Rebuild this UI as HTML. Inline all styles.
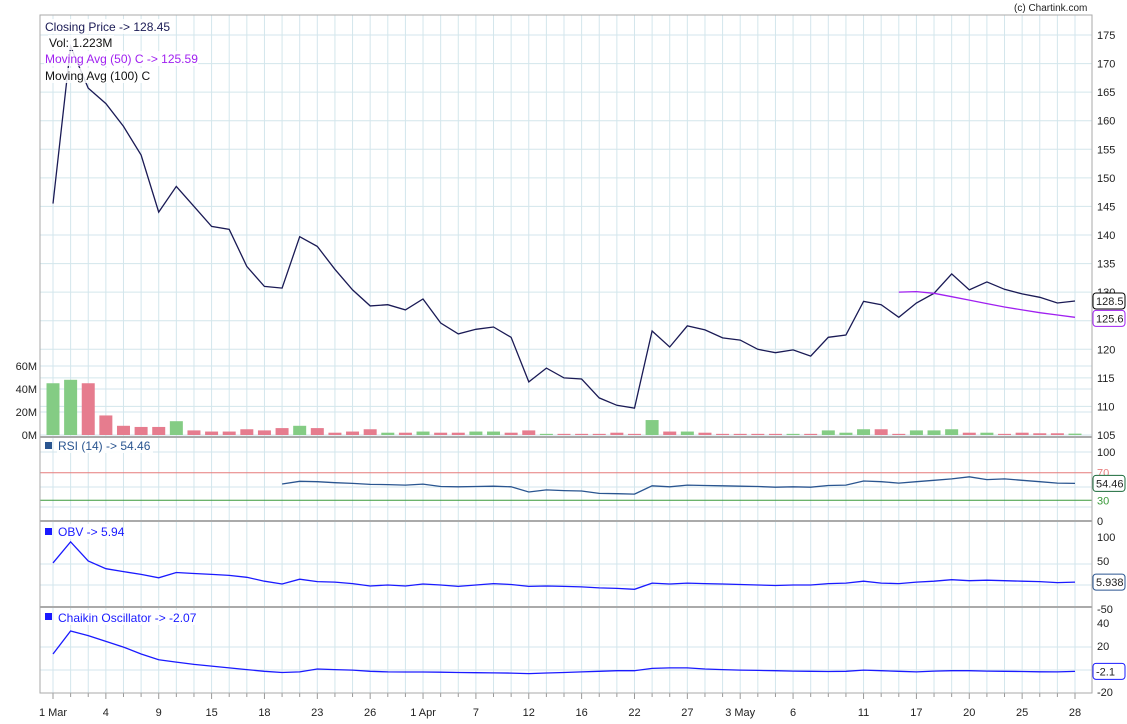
<!DOCTYPE html>
<html><head><meta charset="utf-8"><style>
body{margin:0;background:#fff;font-family:"Liberation Sans",sans-serif;overflow:hidden;}
svg{display:block;}
svg text{font-family:"Liberation Sans",sans-serif;}
</style></head><body>
<svg id="c" width="1127" height="724" xmlns="http://www.w3.org/2000/svg"></svg>
<script>
const dates=["1 Mar","4","9","15","18","23","26","1 Apr","7","12","16","22","27","3 May","6","11","17","20","25","28"];
const dateIdx=[0,3,6,9,12,15,18,21,24,27,30,33,36,39,42,46,49,52,55,58];
const price=[145.5,173,165.7,163,159,154,144,148.5,145,141.5,141,134.5,131,130.7,139.7,138,134,130.4,127.6,127.8,126.9,128.8,124.6,122.7,123.5,123.9,122.1,114.3,116.7,115,114.8,111.5,110.2,109.7,123.2,120.4,124.1,123.4,122,121.6,120,119.4,119.9,118.8,122.1,122.5,128.4,127.8,125.6,128.1,129.8,133.2,130.4,131.8,130.5,129.7,129.1,128.1,128.45];
const ma50Start=48;
const ma50=[130.0,130.1,129.8,129.2,128.6,128.0,127.4,126.9,126.4,126.0,125.59];
const volume=[45,48,45,17,8,7,7,12,4,3,3,5,4,6,8,6,2,3,5,2,2,3,2,2,3,3,2,4,1,1,1,1,2,1,13,3,3,2,1,1,1,1,1,1,4,2,5,5,1,4,4,5,2,2,1,2,1.5,1.5,1.2];
const rsiStart=13;
const rsi=[53.6,57.5,57,55.5,54.5,53,52.8,52,53.5,50,49.5,50,50.5,49.5,42,45,44,43.5,40,39.5,39,51,49.5,52,51.5,51,50.5,50,49,49.5,49,51.5,52,58,57,55,57,59,61,64,60,61,59,57,55,54.46];
const obv=[46,90,50,34,28,22,15,26,24,22,20,16,8,2,12,7,6,3,-2,0,-2,2,0,-3,0,3,1,-3,-2,-3,-4,-6,-7,-9,4,2,4,3,2,1,0,-1,0,0,3,4,8,4,3,6,8,11,9,10,9,8,7,5,5.94];
const chaikin=[13,33,29,24,19,13,8,6,4,2.5,1,-0.5,-2,-3,-2.5,0,-0.5,-1,-2,-2.5,-2.6,-2.6,-2.8,-3,-3.2,-3.4,-3.6,-4,-3.5,-3,-2.5,-2,-1.5,-1.5,0.5,1,1,0,-0.5,-1,-1.2,-1.5,-1.8,-2,-2.2,-2,-1,-1.5,-2,-2.5,-1.8,-1.5,-1.5,-1.8,-2,-2.2,-2.4,-2.5,-2.07];
const priceTicks=[105,110,115,120,125,130,135,140,145,150,155,160,165,170,175];
const volTicks=[0,20,40,60];
const rsiTicks=[0,30,70,100];
const obvTicks=[-50,50,100];
const chTicks=[-20,20,40];

const svg=document.getElementById('c');
const NS="http://www.w3.org/2000/svg";
function el(t,a,txt){const e=document.createElementNS(NS,t);for(const k in a)e.setAttribute(k,a[k]);if(txt!==undefined)e.textContent=txt;svg.appendChild(e);return e;}
const L=40,R=1092,N=price.length;
const X=i=>53+i*(1075-53)/(N-1);
const yP=v=>35+(175-v)*400/70;
const yV=v=>435-v*69/60;
const yR=v=>521-v*0.69;
const yO=v=>537+(100-v)*24/50;
const yC=v=>623+(40-v)*1.15;

for(let i=0;i<N;i++){const g=el('line',{x1:X(i),x2:X(i),y1:15,y2:693,stroke:'#d3e6ec','stroke-width':1});

el('line',{x1:X(i),x2:X(i),y1:693,y2:dateIdx.includes(i)?699:697,stroke:'#999'});}
priceTicks.forEach(v=>{const g=el('line',{x1:L,x2:R,y1:yP(v),y2:yP(v),stroke:'#d3e6ec'});
const t=el('text',{x:1097,y:yP(v)+4,'font-size':11,fill:'#222'},v);});
[20,40,60].forEach(v=>el('line',{x1:L,x2:R,y1:yV(v),y2:yV(v),stroke:'#d3e6ec'}));
volTicks.forEach(v=>{const t=el('text',{x:37,y:yV(v)+4,'font-size':11,fill:'#222','text-anchor':'end'},v+'M');});
[452,487,507].forEach(y=>el('line',{x1:L,x2:R,y1:y,y2:y,stroke:'#d3e6ec'}));
[564,585].forEach(y=>el('line',{x1:L,x2:R,y1:y,y2:y,stroke:'#d3e6ec'}));
[647,670].forEach(y=>el('line',{x1:L,x2:R,y1:y,y2:y,stroke:'#d3e6ec'}));

volume.forEach((v,i)=>{const up=i===0||price[i]>=price[i-1];
const b=el('rect',{x:X(i)-6.5,y:yV(v),width:13,height:435-yV(v),fill:up?'#84cc84':'#e67c8e'});
});

function line(arr,start,fy,color,name,w){const p=arr.map((v,k)=>X(k+start).toFixed(1)+','+fy(v).toFixed(1)).join(' ');
const e=el('polyline',{points:p,fill:'none',stroke:color,'stroke-width':w||1.3});}
line(price,0,yP,'#1a1a55','price-line');
line(ma50,ma50Start,yP,'#a020f0','ma50-line');

el('line',{x1:L,x2:R,y1:yR(70),y2:yR(70),stroke:'#e67c7c'});
el('line',{x1:L,x2:R,y1:yR(30),y2:yR(30),stroke:'#3a9a3a'});
line(rsi,rsiStart,yR,'#2a5590','rsi-line');
rsiTicks.forEach(v=>{const t=el('text',{x:1097,y:yR(v)+4,'font-size':11,fill:v==70?'#e67c7c':v==30?'#3a9a3a':'#222'},v);});
line(obv,0,yO,'#1a1aff','obv-line');
obvTicks.forEach(v=>{const t=el('text',{x:1097,y:yO(v)+4,'font-size':11,fill:'#222'},v);});
line(chaikin,0,yC,'#1a1aff','chaikin-line');
chTicks.forEach(v=>{const t=el('text',{x:1097,y:yC(v)+4,'font-size':11,fill:'#222'},v);});

el('rect',{x:L,y:15,width:R-L,height:678,fill:'none',stroke:'#aaa'});
[437,521,607].forEach(y=>el('line',{x1:L,x2:R,y1:y,y2:y,stroke:'#aaa','stroke-width':2}));
dates.forEach((d,k)=>{const t=el('text',{x:X(dateIdx[k]),y:716,'font-size':11,fill:'#222','text-anchor':'middle'},d);});

function badge(y,txt,col,name){const r=el('rect',{x:1093,y:y-8,width:32,height:16,rx:3,fill:'#fff',stroke:col});
el('text',{x:1096,y:y+4,'font-size':11,fill:'#222'},txt);}
badge(yP(price[N-1]),'128.5','#000','price-badge');
badge(yP(ma50[ma50.length-1])+1,'125.6','#a020f0','ma50-badge');
badge(yR(rsi[rsi.length-1]),'54.46','#1a6a3a','rsi-badge');
badge(yO(obv[N-1]),'5.938','#2a5590','obv-badge');
badge(yC(chaikin[N-1]),'-2.1','#1a1aff','chaikin-badge');

function txt(x,y,s,c,name,size,bg){if(bg){el('rect',{x:x-1,y:y-12,width:bg,height:15,fill:'#fff','fill-opacity':0.85});}
const t=el('text',{x:x,y:y,'font-size':size||12,fill:c},s);}
txt(45,31,'Closing Price -> 128.45','#1a1a55','legend-close',12,130);
txt(49,47,'Vol: 1.223M','#111','legend-volume',12,66);
txt(45,63,'Moving Avg (50) C -> 125.59','#a020f0','legend-ma50',12,154);
txt(45,80,'Moving Avg (100) C','#111','legend-ma100',12,112);
txt(1014,11,'(c) Chartink.com','#222','watermark',10);
el('rect',{x:45,y:442,width:7,height:7,fill:'#2a5590'});
txt(58,450,'RSI (14) -> 54.46','#2a5590','legend-rsi',12,96);
el('rect',{x:45,y:528,width:7,height:7,fill:'#1a1aff'});
txt(58,536,'OBV -> 5.94','#1a1aff','legend-obv',12,66);
el('rect',{x:45,y:613,width:7,height:7,fill:'#1a1aff'});
txt(58,622,'Chaikin Oscillator -> -2.07','#1a1aff','legend-chaikin',12,144);
</script>
</body></html>
